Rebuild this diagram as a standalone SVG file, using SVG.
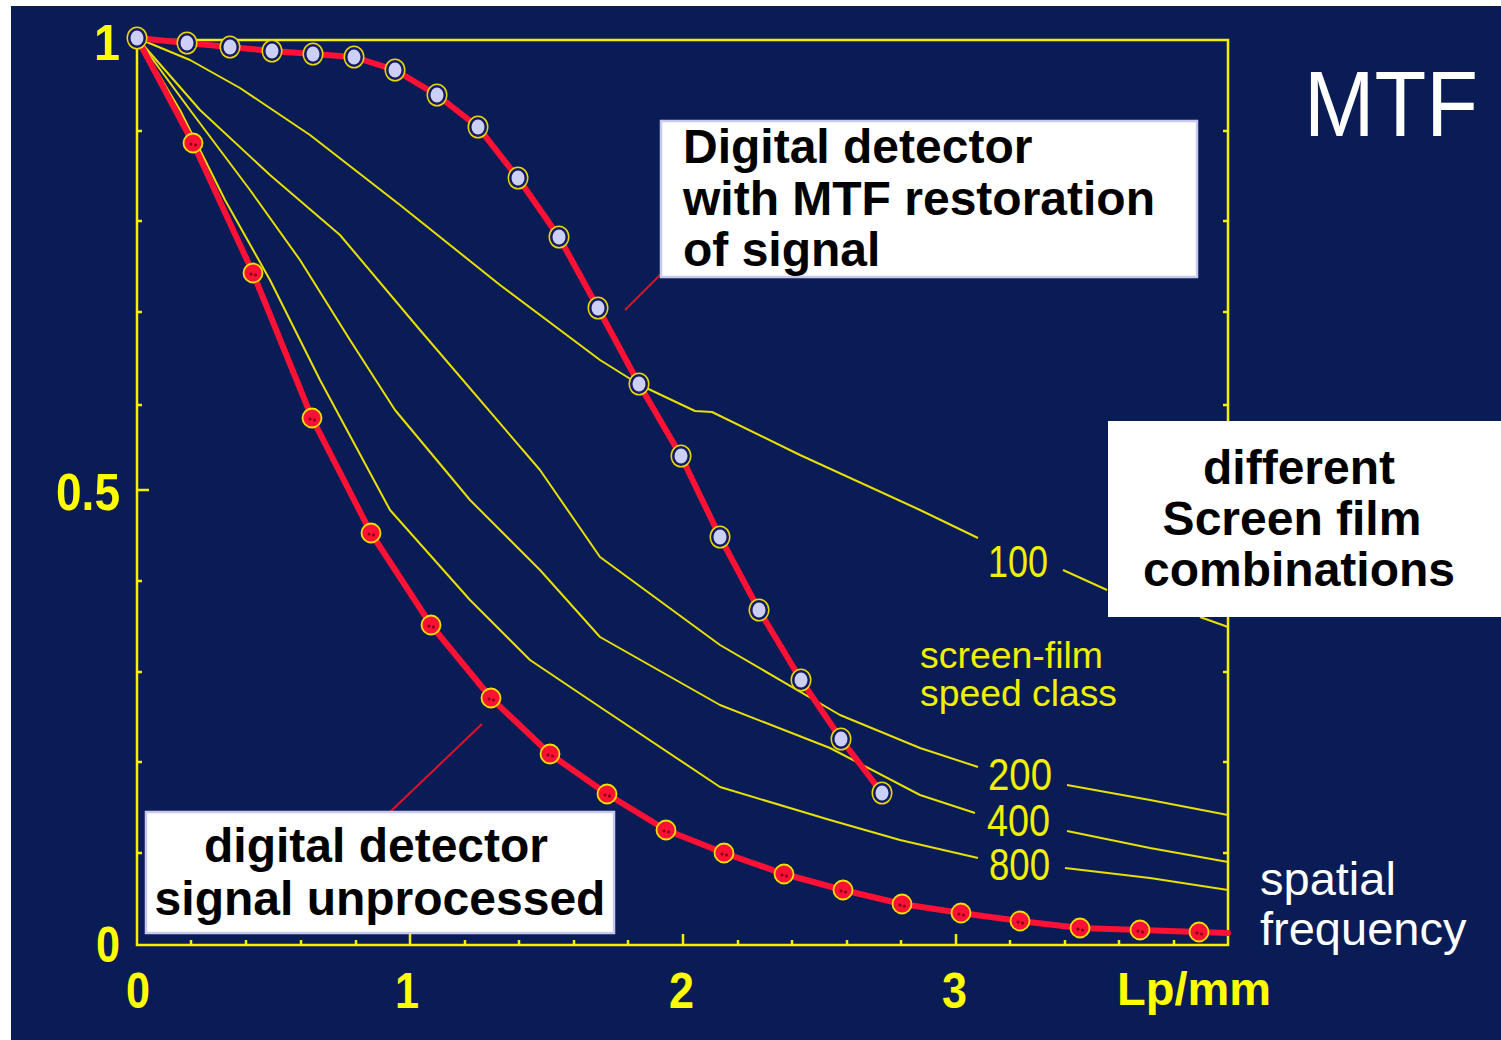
<svg xmlns="http://www.w3.org/2000/svg" width="1501" height="1040" viewBox="0 0 1501 1040">
<defs>
<style>
.ax{stroke:#f5f000;stroke-width:2.5;fill:none}
.yc{stroke:#e8e000;stroke-width:2;fill:none;stroke-linejoin:round}
.rc{stroke:#ff1035;stroke-width:6;fill:none;stroke-linejoin:round;stroke-linecap:round}
.num{font-family:"Liberation Sans",Arial,sans-serif;font-weight:bold;fill:#ffff00}
.lab{font-family:"Liberation Sans",Arial,sans-serif;fill:#f0f000}
.box{fill:#ffffff;stroke:#c8c8f0;stroke-width:2.5}
.bt{font-family:"Liberation Sans",Arial,sans-serif;font-weight:bold;font-size:48px;fill:#000000}
.wt{font-family:"Liberation Sans",Arial,sans-serif;fill:#ffffff}
.ptr{stroke:#e0102a;stroke-width:2;fill:none}
</style>
<g id="mk">
<ellipse cx="0" cy="0" rx="10.5" ry="11.5" fill="#e8d800"/>
<ellipse cx="0" cy="0" rx="9" ry="10" fill="#141a66"/>
<ellipse cx="0" cy="0" rx="6.5" ry="7.5" fill="#ccd0f6"/>
</g>
<g id="rk">
<circle cx="0" cy="0" r="9.5" fill="#ff1035" stroke="#f0e000" stroke-width="1.8"/>
<circle cx="-2" cy="1" r="1.5" fill="#7a0010"/>
<circle cx="2.5" cy="2" r="1.5" fill="#7a0010"/>
</g>
</defs>
<rect x="0" y="0" width="1501" height="1040" fill="#ffffff"/>
<rect x="11" y="6" width="1490" height="1034" fill="#0a1c55"/>

<g id="axes">
<path class="ax" d="M137 40 V945 H1228 V40 H137"/>
<path class="ax" d="M137 131h5M137 221h5M137 312h5M137 405h5M137 490h12M137 581h5M137 672h5M137 762h5M137 853h5"/>
<path class="ax" d="M1228 131h-5M1228 221h-5M1228 312h-5M1228 405h-5M1228 490h-10M1228 581h-5M1228 672h-5M1228 762h-5M1228 853h-5"/>
<path class="ax" d="M191 945v-5M246 945v-5M301 945v-5M356 945v-5M410 945v-11M465 945v-5M519 945v-5M574 945v-5M628 945v-5M683 945v-11M738 945v-5M792 945v-5M847 945v-5M901 945v-5M956 945v-11M1010 945v-5M1065 945v-5M1119 945v-5M1174 945v-5"/>
<text class="num" x="94" y="60" font-size="50" textLength="26" lengthAdjust="spacingAndGlyphs">1</text>
<text class="num" x="56" y="510" font-size="52" textLength="64" lengthAdjust="spacingAndGlyphs">0.5</text>
<text class="num" x="96" y="962" font-size="50" textLength="24" lengthAdjust="spacingAndGlyphs">0</text>
<text class="num" x="126" y="1008" font-size="50" textLength="24" lengthAdjust="spacingAndGlyphs">0</text>
<text class="num" x="395" y="1008" font-size="50" textLength="24" lengthAdjust="spacingAndGlyphs">1</text>
<text class="num" x="669" y="1008" font-size="50" textLength="25" lengthAdjust="spacingAndGlyphs">2</text>
<text class="num" x="942" y="1008" font-size="50" textLength="25" lengthAdjust="spacingAndGlyphs">3</text>
<text class="num" x="1117" y="1005" font-size="47">Lp/mm</text>
</g>

<g id="screen-film-curves">
<polyline class="yc" points="137,38 190,60 240,88 310,135 400,205 500,285 600,360 640,385 695,411 712,412 800,455 920,510 978,538"/>
<polyline class="yc" points="1063,570 1107,590"/>
<polyline class="yc" points="1200,617 1228,627"/>
<polyline class="yc" points="137,38 200,110 270,175 340,235 420,330 540,470 600,557 720,645 840,715 920,748 978,767"/>
<polyline class="yc" points="1067,785 1150,800 1228,815"/>
<polyline class="yc" points="137,38 190,110 250,190 300,260 350,340 395,410 470,500 540,570 600,637 720,705 830,748 920,795 975,813"/>
<polyline class="yc" points="1067,831 1150,848 1228,862"/>
<polyline class="yc" points="137,38 180,110 225,200 270,280 320,380 390,510 470,600 530,660 600,707 720,787 830,820 900,840 978,858"/>
<polyline class="yc" points="1065,868 1150,878 1228,890"/>
<text class="lab" x="988" y="577" font-size="44" textLength="60" lengthAdjust="spacingAndGlyphs">100</text>
<text class="lab" x="920" y="668" font-size="37" textLength="183" lengthAdjust="spacingAndGlyphs">screen-film</text>
<text class="lab" x="920" y="706" font-size="37" textLength="197" lengthAdjust="spacingAndGlyphs">speed class</text>
<text class="lab" x="988" y="790" font-size="44" textLength="64" lengthAdjust="spacingAndGlyphs">200</text>
<text class="lab" x="987" y="836" font-size="44" textLength="63" lengthAdjust="spacingAndGlyphs">400</text>
<text class="lab" x="989" y="880" font-size="44" textLength="61" lengthAdjust="spacingAndGlyphs">800</text>
</g>

<g id="digital-unprocessed">
<polyline class="rc" points="137,38 193,143 253,273 312,418 371,533 431,625 491,698 550,754 607,794 666,830 724,853 784,874 843,890 902,904 961,913 1020,921 1080,928 1140,930 1199,932 1228,933"/>
<use href="#rk" x="193" y="143"/><use href="#rk" x="253" y="273"/><use href="#rk" x="312" y="418"/><use href="#rk" x="371" y="533"/><use href="#rk" x="431" y="625"/><use href="#rk" x="491" y="698"/><use href="#rk" x="550" y="754"/><use href="#rk" x="607" y="794"/><use href="#rk" x="666" y="830"/><use href="#rk" x="724" y="853"/><use href="#rk" x="784" y="874"/><use href="#rk" x="843" y="890"/><use href="#rk" x="902" y="904"/><use href="#rk" x="961" y="913"/><use href="#rk" x="1020" y="921"/><use href="#rk" x="1080" y="928"/><use href="#rk" x="1140" y="930"/><use href="#rk" x="1199" y="932"/>
</g>

<g id="digital-restored">
<polyline class="rc" points="137,38 187,43 230,47 272,51 313,54 354,57 395,70 437,95 478,127 518,178 559,237 598,308 639,384 681,456 720,537 759,610 801,680 841,739 882,793"/>
<use href="#mk" x="137" y="38"/><use href="#mk" x="187" y="43"/><use href="#mk" x="230" y="47"/><use href="#mk" x="272" y="51"/><use href="#mk" x="313" y="54"/><use href="#mk" x="354" y="57"/><use href="#mk" x="395" y="70"/><use href="#mk" x="437" y="95"/><use href="#mk" x="478" y="127"/><use href="#mk" x="518" y="178"/><use href="#mk" x="559" y="237"/><use href="#mk" x="598" y="308"/><use href="#mk" x="639" y="384"/><use href="#mk" x="681" y="456"/><use href="#mk" x="720" y="537"/><use href="#mk" x="759" y="610"/><use href="#mk" x="801" y="680"/><use href="#mk" x="841" y="739"/><use href="#mk" x="882" y="793"/>
</g>

<g id="connectors">
<line class="ptr" x1="625" y1="310" x2="661" y2="274"/>
<line class="ptr" x1="390" y1="812" x2="482" y2="724"/>
</g>

<g id="box-restored">
<rect class="box" x="661" y="121" width="536" height="156"/>
<text class="bt" x="683" y="163">Digital detector</text>
<text class="bt" x="683" y="215">with MTF restoration</text>
<text class="bt" x="683" y="266">of signal</text>
</g>

<g id="box-unprocessed">
<rect class="box" x="146" y="812" width="468" height="121"/>
<text class="bt" x="376" y="862" text-anchor="middle">digital detector</text>
<text class="bt" x="380" y="915" text-anchor="middle">signal unprocessed</text>
</g>

<g id="box-screenfilm">
<rect x="1108" y="421" width="395" height="196" fill="#ffffff"/>
<text class="bt" x="1299" y="484" text-anchor="middle">different</text>
<text class="bt" x="1292" y="535" text-anchor="middle">Screen film</text>
<text class="bt" x="1299" y="586" text-anchor="middle">combinations</text>
</g>

<g id="title">
<text class="wt" x="1304" y="136" font-size="92" textLength="174" lengthAdjust="spacingAndGlyphs">MTF</text>
<text class="wt" x="1260" y="895" font-size="47">spatial</text>
<text class="wt" x="1260" y="945" font-size="47">frequency</text>
</g>
</svg>
